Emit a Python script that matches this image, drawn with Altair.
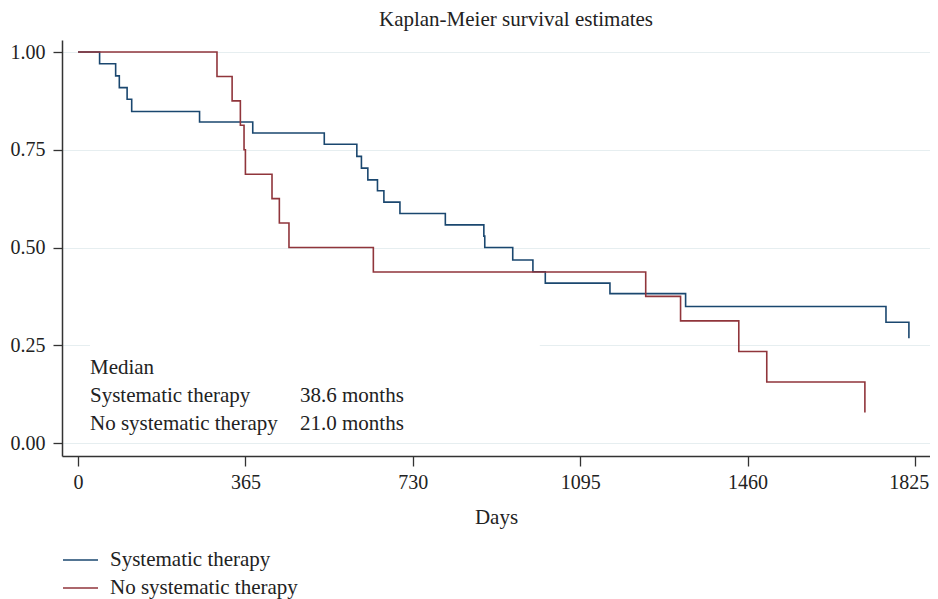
import altair as alt
import pandas as pd

# ---- data ----
series_names = ["Systematic therapy", "No systematic therapy"]
series_colors = ["#1a476f", "#90353b"]

blue_days = [0, 47, 82, 90, 107, 117, 265, 381, 537, 608, 618, 632, 653, 667, 702,
             801, 885, 887, 948, 992, 1019, 1160, 1325, 1762, 1812]
blue_surv = [1.0, 0.970, 0.939, 0.909, 0.879, 0.848, 0.821, 0.793, 0.764, 0.733, 0.703,
             0.673, 0.645, 0.616, 0.587, 0.558, 0.529, 0.500, 0.468, 0.438, 0.409,
             0.382, 0.349, 0.309, 0.268]

red_days = [0, 303, 336, 354, 362, 365, 423, 439, 460, 644, 1238, 1314, 1441, 1502, 1716]
red_surv = [1.0, 0.9375, 0.875, 0.8125, 0.75, 0.6875, 0.625, 0.5625, 0.5, 0.4375,
            0.375, 0.3125, 0.234, 0.156, 0.078]

x_ticks = [0, 365, 730, 1095, 1460, 1825]
y_ticks = [0.0, 0.25, 0.5, 0.75, 1.0]

ann_rows = ["Median", "Systematic therapy", "No systematic therapy"]
ann_values = ["", "38.6 months", "21.0 months"]
ann_y = [0.177, 0.105, 0.033]
ann_x_label = 26
ann_x_value = 484

FONT = "Liberation Serif"
FS = 21      # text
FS_TICK = 20  # tick labels

df = pd.concat([
    pd.DataFrame({"days": blue_days, "surv": blue_surv, "group": series_names[0], "order": range(len(blue_days))}),
    pd.DataFrame({"days": red_days, "surv": red_surv, "group": series_names[1], "order": range(len(red_days))}),
])

xscale = alt.Scale(domain=[-35, 1858], nice=False, zero=False)
yscale = alt.Scale(domain=[-0.0332, 1.0307], nice=False, zero=False)
cscale = alt.Scale(domain=series_names, range=series_colors)

lines = alt.Chart(df).mark_line(interpolate="step-after", strokeWidth=1.6, clip=True).encode(
    x=alt.X("days:Q", scale=xscale,
            axis=alt.Axis(values=x_ticks, title="Days", grid=False, tickSize=10,
                          labelPadding=6, titlePadding=14, format="d",
                          labelOffset={"condition": {"test": "datum.value == 1825", "value": -6},
                                       "value": 0})),
    y=alt.Y("surv:Q", scale=yscale,
            axis=alt.Axis(values=y_ticks, title=None, grid=True, tickSize=9,
                          labelPadding=8, format=".2f")),
    color=alt.Color("group:N", scale=cscale, legend=None),
    order="order:Q",
)

box_df = pd.DataFrame({"x": [26], "x2": [1007], "y": [0.01], "y2": [0.26]})
box = alt.Chart(box_df).mark_rect(color="white").encode(
    x=alt.X("x:Q", scale=xscale), x2="x2:Q",
    y=alt.Y("y:Q", scale=yscale), y2="y2:Q",
)

ann_df = pd.DataFrame({"label": ann_rows, "value": ann_values, "y": ann_y,
                       "xl": [ann_x_label] * 3, "xv": [ann_x_value] * 3})
ann_labels = alt.Chart(ann_df).mark_text(align="left", baseline="alphabetic", font=FONT,
                                         fontSize=FS, color="#222222").encode(
    x=alt.X("xl:Q", scale=xscale), y=alt.Y("y:Q", scale=yscale), text="label:N")
ann_values_m = alt.Chart(ann_df).mark_text(align="left", baseline="alphabetic", font=FONT,
                                           fontSize=FS, color="#222222").encode(
    x=alt.X("xv:Q", scale=xscale), y=alt.Y("y:Q", scale=yscale), text="value:N")

# legend below the plot (built by hand so row spacing matches)
legend_layers = []
for i, (name, col) in enumerate(zip(series_names, series_colors)):
    ly = 520 + 28 * i
    ldf = pd.DataFrame({"group": [name]})
    legend_layers.append(
        alt.Chart(ldf).mark_rule(strokeWidth=1.6, color=col).encode(
            x=alt.value(1), x2=alt.value(36), y=alt.value(ly))
    )
    legend_layers.append(
        alt.Chart(ldf).mark_text(align="left", baseline="alphabetic", font=FONT,
                                 fontSize=FS, color="#222222").encode(
            x=alt.value(48), y=alt.value(ly + 5.5), text="group:N")
    )

chart = alt.layer(box, lines, ann_labels, ann_values_m, *legend_layers).properties(
    width=868, height=416,
    autosize=alt.AutoSizeParams(type="none"),
    padding={"left": 54, "top": 32, "right": 0, "bottom": 151},
    title=alt.TitleParams("Kaplan-Meier survival estimates", font=FONT, fontSize=FS,
                          fontWeight="normal", color="#222222", anchor="middle",
                          dx=20, offset=10),
).configure_view(stroke=None).configure_axis(
    labelFont=FONT, labelFontSize=FS_TICK, labelColor="#222222",
    titleFont=FONT, titleFontSize=FS, titleColor="#222222", titleFontWeight="normal",
    domainColor="#333333", domainWidth=1.5, tickColor="#333333", tickWidth=1.3,
    gridColor="#e6eef0", gridWidth=1.2,
)

chart.save("out.html", embed_options={"renderer": "svg", "actions": False})
